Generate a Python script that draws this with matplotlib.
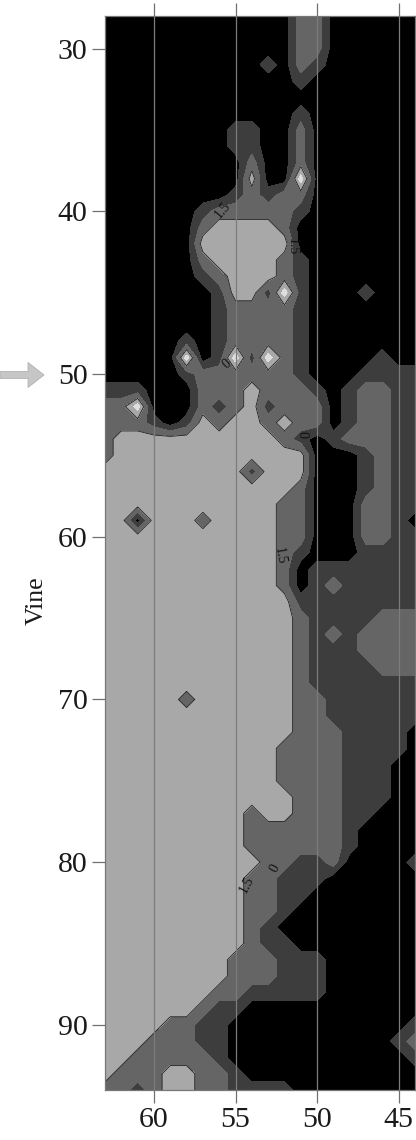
import numpy as np
import matplotlib
matplotlib.use('Agg')
import matplotlib.pyplot as plt

plt.rcParams['font.family'] = ['Liberation Serif', 'DejaVu Serif']

# zone value per grid cell
# columns: x = 63 .. 44, rows: y (vine) = 28 .. 94
x_vals = np.arange(63, 43, -1)
y_vals = np.arange(28, 95)
field_rows = [
    "00000000000022000000",  # 28
    "00000000000022000000",
    "00000000000022000000",  # 30
    "00000000001021000000",
    "00000000000010000000",
    "00000000000000000000",
    "00000000000010000000",
    "00000000110020000000",  # 35
    "00000000110020000000",
    "00000000020020000000",
    "00000000030040000000",
    "00000000121220000000",
    "00000012222210000000",  # 40
    "00000023333200000000",
    "00000033333300000000",
    "00000023333210000000",
    "00000012333210000000",
    "00000001331410001000",  # 45
    "00000001222210000000",
    "00000001222210000000",
    "00000101222210000000",
    "00000401414210000100",
    "00000122222210001111",  # 50
    "11100022232221012211",
    "22400021231222012211",
    "22210132332322012211",
    "23333333333210122211",
    "23333333333330001211",  # 55
    "33333333313330001211",
    "33333333333320001211",
    "33333333333220002211",
    "33033323333220002210",
    "33333333333220002211",  # 60
    "33333333333210001111",
    "33333333333201111111",
    "33333333333201211111",
    "33333333333311111111",
    "33333333333321111222",  # 65
    "33333333333321212222",
    "33333333333321112222",
    "33333333333321111222",
    "33333333333321111111",
    "33333233333322111111",  # 70
    "33333333333322111111",
    "33333333333322211110",
    "33333333333222211110",
    "33333333333222211100",
    "33333333333222211100",  # 75
    "33333333333322211100",
    "33333333323322211000",
    "33333333322222210000",
    "33333333322222210000",
    "33333333332211200001",  # 80
    "33333333322111000000",
    "33333333322110000000",
    "33333333322100000000",
    "33333333321000000000",
    "33333333321100000000",  # 85
    "33333333222111000000",
    "33333333222111000000",
    "33333332211111000000",
    "33333321100000000000",
    "33332211000000000001",  # 90
    "33322211000000000012",
    "33222221000000000001",
    "32223322100000000000",
    "22123322111100000000",  # 94
]
zone_levels = [-0.5, 0.5, 1.5, 2.5, 3.5, 4.5]
zone_colors = ['#000000', '#3d3d3d', '#656565', '#a8a8a8', '#dedede']

x_ticks = [60, 55, 50, 45]
y_ticks = [30, 40, 50, 60, 70, 80, 90]

# contour labels seen on the picture: text, x, y, rotation
contour_labels = [
    ("1.5", 52.3, 61.2, -80),
    ("0", 50.6, 53.7, 90),
    ("1.5", 54.3, 81.4, 62),
    ("0", 52.6, 80.4, 62),
    ("1.5", 55.8, 39.9, 50),
    ("1.5", 51.5, 42.2, -90),
    ("0", 55.5, 49.4, 40),
]

Z = np.array([[int(c) for c in row] for row in field_rows], dtype=float)

fig = plt.figure(figsize=(4.16, 11.4), dpi=100)
ax = fig.add_axes([105 / 416, 50 / 1140, 310 / 416, 1074 / 1140])

ax.contourf(x_vals, y_vals, Z, levels=zone_levels, colors=zone_colors)
ax.contour(x_vals, y_vals, Z, levels=[2.5], colors='#1e1e1e', linewidths=0.6)

for txt, lx, ly, rot in contour_labels:
    ax.text(lx, ly, txt, rotation=rot, ha='center', va='center',
            fontsize=10, color='#111111')

ax.set_xlim(63, 44)
ax.set_ylim(94, 28)
ax.set_xticks(x_ticks)
ax.set_yticks(y_ticks)
ax.grid(axis='x', color='#7c7c7c', linewidth=0.9)
ax.set_axisbelow(False)

ax.tick_params(direction='out', length=9.5, width=0.9, color='#707070',
               labelsize=21.5, labelcolor='#1a1a1a', pad=3,
               top=True, right=True)
for sp in ax.spines.values():
    sp.set_color('#777777')
    sp.set_linewidth(0.9)

ax.set_ylabel('Vine', fontsize=18.5, color='#1a1a1a')
ax.yaxis.set_label_coords(-0.185, 0.456)

# the grey pointer at vine 50
ax.annotate('', xy=(44, 765), xycoords='figure pixels',
            xytext=(0, 765), textcoords='figure pixels',
            arrowprops=dict(arrowstyle='simple,head_length=1.15,head_width=1.8,tail_width=0.5',
                            mutation_scale=10, fc='#c6c6c6', ec='#b2b2b2', lw=0.6,
                            shrinkA=0, shrinkB=0))

fig.savefig('out.png', dpi=100)
